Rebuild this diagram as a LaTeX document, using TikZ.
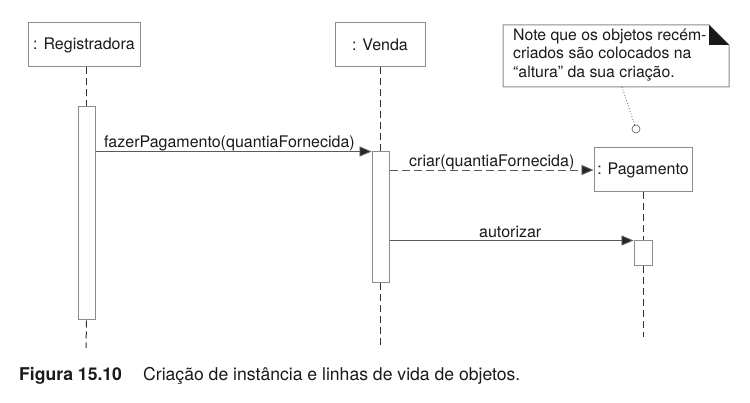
\documentclass[tikz,border=0pt]{standalone}
\usepackage{fontspec}
\setmainfont{TeX Gyre Heros}
\usetikzlibrary{arrows.meta}
\definecolor{boxc}{HTML}{8C8C8C}
\definecolor{linec}{HTML}{5A5A5A}
\definecolor{txt}{HTML}{1A1A1A}
\begin{document}
\begin{tikzpicture}[x=1pt,y=-1pt,
  every node/.style={text=txt},
  font=\fontsize{16}{19}\selectfont,
  objbox/.style={draw=boxc,line width=1pt,fill=white,minimum height=44pt,inner sep=0pt},
  actbox/.style={draw=boxc,line width=1pt,fill=white,minimum width=17pt,inner sep=0pt},
  life/.style={draw=black!80,line width=1pt,dash pattern=on 7pt off 4pt},
  msg/.style={draw=linec,line width=0.9pt,-{Triangle[length=12pt,width=10pt,fill=black!85]}},
  dmsg/.style={msg,dash pattern=on 8pt off 4pt},
  lbl/.style={anchor=base west,inner sep=0pt},
  notet/.style={align=left,anchor=north west,inner sep=0pt,font=\fontsize{15.8}{18.7}\selectfont}
]
\useasboundingbox (0,0) rectangle (750,403);

% objects
\node[objbox,minimum width=112pt] (reg) at (84,45) {: Registradora};
\node[objbox,minimum width=90pt] (ven) at (380,45) {: Venda};
\node[objbox,minimum width=98pt] (pag) at (643,170) {: Pagamento};

% activations
\node[actbox,minimum height=213pt] (a1) at (86.5,213.5) {};
\node[actbox,minimum height=131pt] (a2) at (380.5,217.5) {};
\node[actbox,minimum width=18pt,minimum height=25pt] (a3) at (643,253.5) {};

\coordinate (e1) at (86,348);
\coordinate (e2) at (380.5,348);
\coordinate (e3) at (643,337);

% lifelines
\draw[life] (reg.south -| a1.north) -- (a1.north);
\draw[life] (a1.south) -- (e1);
\draw[life] (ven.south -| a2.north) -- (a2.north);
\draw[life] (a2.south) -- (e2);
\draw[life] (pag.south) -- (a3.north);
\draw[life] (a3.south) -- (e3);

% redraw activations on top
\node[actbox,minimum height=213pt] at (86.5,213.5) {};
\node[actbox,minimum height=131pt] at (380.5,217.5) {};
\node[actbox,minimum width=18pt,minimum height=25pt] at (643,253.5) {};

% messages
\draw[msg] (a1.east |- a2.north) -- (a2.north west);
\node[lbl] (l1) at (104,148) {fazerPagamento(quantiaFornecida)};
\draw[dmsg] (a2.east |- pag.west) -- (pag.west);
\node[lbl] (l2) at (409,166.5) {criar(quantiaFornecida)};
\draw[msg] (a2.east |- a3.north) -- (a3.north west);
\node[lbl] (l3) at (479,237.5) {autorizar};

% note
\draw[boxc,line width=1pt] (503,25) -- (709,25) -- (729,45) -- (729,87) -- (503,87) -- cycle;
\fill[black!90] (709,25) -- (709,45) -- (729,45) -- cycle;
\node[notet] (note) at (513,28.5) {Note que os objetos recém-\\criados são colocados na\\“altura” da sua criação.};
\coordinate (nanchor) at (622,87);
\node[draw=linec,line width=0.6pt,circle,minimum size=8pt,inner sep=0pt,fill=white] (circ) at (636,129) {};
\draw[linec,line width=0.8pt,dotted] (nanchor) -- (circ);

% caption
\node[anchor=base west,inner sep=0pt,font=\fontsize{17.6}{20}\selectfont\bfseries] (cap1) at (19,381) {Figura 15.10};
\node[anchor=base west,inner sep=0pt,font=\fontsize{17.6}{20}\selectfont] (cap2) at (143,381) {Criação de instância e linhas de vida de objetos.};
\end{tikzpicture}
\end{document}
